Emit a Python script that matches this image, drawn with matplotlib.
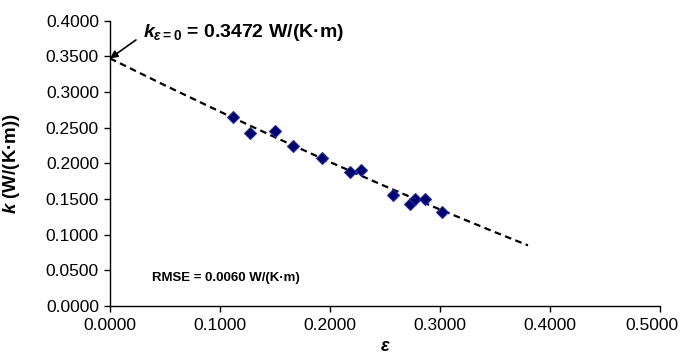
import matplotlib
matplotlib.use("Agg")
import matplotlib.pyplot as plt
import matplotlib.transforms as mtransforms

plt.rcParams['font.family'] = ['Liberation Sans', 'DejaVu Sans']
plt.rcParams['mathtext.fontset'] = 'custom'
plt.rcParams['mathtext.it'] = 'Liberation Sans:italic:bold'
plt.rcParams['mathtext.rm'] = 'Liberation Sans:bold'
plt.rcParams['mathtext.bf'] = 'Liberation Sans:bold'

# measured data
eps = [0.112, 0.127, 0.150, 0.166, 0.193, 0.218, 0.228, 0.257, 0.273, 0.277, 0.286, 0.302]
k = [0.2655, 0.2422, 0.2454, 0.2248, 0.2071, 0.1875, 0.1907, 0.1557, 0.1426, 0.1505, 0.1496, 0.1314]

# fitted curve
fit_eps = [0.0, 0.05, 0.10, 0.15, 0.20, 0.25, 0.30, 0.35, 0.38]
fit_k = [0.3472, 0.3093, 0.2725, 0.2366, 0.2018, 0.1680, 0.1353, 0.1035, 0.0850]

x_ticks = [0.0, 0.1, 0.2, 0.3, 0.4, 0.5]
y_ticks = [0.0, 0.05, 0.10, 0.15, 0.20, 0.25, 0.30, 0.35, 0.40]

fig = plt.figure(figsize=(6.83, 3.56), dpi=100)
ax = fig.add_axes([110/683, 50/356, 550/683, 285.3/356])

ax.plot(fit_eps, fit_k, color='black', lw=1.6, ls=(0, (3, 2)), zorder=2)
ax.plot(eps, k, ls='none', marker='D', markersize=6.5,
        markerfacecolor='#000070', markeredgecolor='#2030a0', markeredgewidth=0.8, zorder=3)

ax.set_xlim(0, 0.5)
ax.set_ylim(0, 0.4)
ax.set_xticks(x_ticks)
ax.set_yticks(y_ticks)
ax.set_xticklabels([f"{v:.4f}" for v in x_ticks])
ax.set_yticklabels([f"{v:.4f}" for v in y_ticks])
ax.tick_params(axis='both', direction='out', length=4, width=1, labelsize=12.5, colors='black')
ax.tick_params(axis='x', pad=5)
ax.tick_params(axis='y', pad=4)
for s in ['top', 'right']:
    ax.spines[s].set_visible(False)
for s in ['left', 'bottom']:
    ax.spines[s].set_linewidth(1.0)

# shift the last x tick label left so it fits inside the figure
last = ax.get_xticklabels()[-1]
last.set_transform(last.get_transform() + mtransforms.ScaledTranslation(-8/100, 0, fig.dpi_scale_trans))

ax.set_ylabel(r"$k$ (W/(K·m))", fontsize=13.5, fontweight='bold')
ax.yaxis.set_label_coords(-0.16, 0.5)
ax.set_xlabel(r"$\varepsilon$", fontsize=13, fontweight='bold', va='center')
ax.xaxis.set_label_coords(0.5, -0.142)

ax.text(0.030, 0.383, r"$k_{\varepsilon=0}$ = 0.3472 W/(K·m)",
        fontsize=14, fontweight='bold', va='center', ha='left')
ax.annotate("", xy=(0.0, 0.3472), xytext=(0.0236, 0.373), textcoords='data',
            arrowprops=dict(arrowstyle='-|>', color='black', lw=1.2,
                            mutation_scale=11, shrinkA=0, shrinkB=0),
            annotation_clip=False)

ax.text(0.038, 0.039, "RMSE = 0.0060 W/(K·m)", fontsize=9.5, fontweight='bold',
        va='center', ha='left')

fig.savefig("out.png", dpi=100)
